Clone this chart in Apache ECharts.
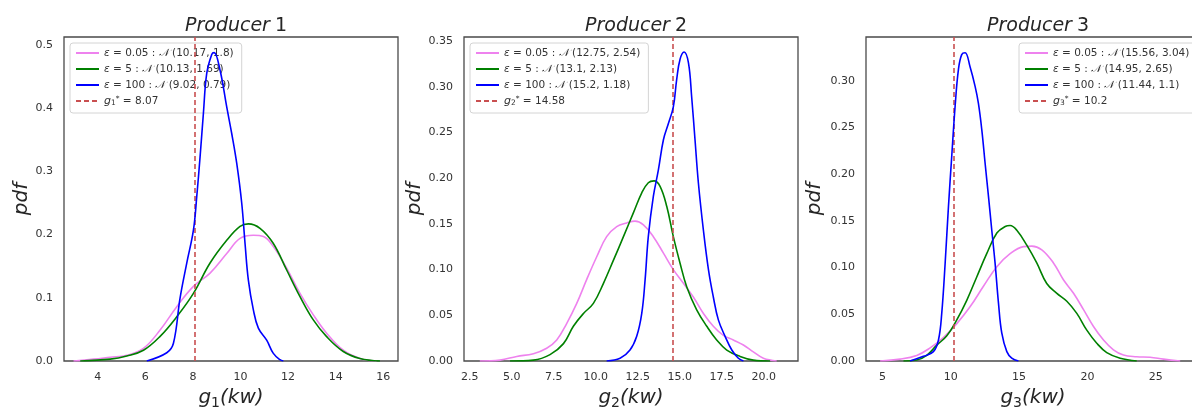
<!DOCTYPE html>
<html>
<head>
<meta charset="utf-8">
<script src="https://cdn.jsdelivr.net/npm/echarts@6/dist/echarts.min.js"></script>
<style>
html, body { margin: 0; padding: 0; background: #fff; }
#main { width: 1192px; height: 407px; }
</style>
</head>
<body>
<div id="main"></div>
<script>
// kde curves, [g, pdf]
const p1Low = [[2.98,0],[3.82,0.003],[4.52,0.006],[5.22,0.009],[5.92,0.02],[6.62,0.049],[7.32,0.086],[8.02,0.118],[8.72,0.139],[9.42,0.17],[9.98,0.194],[10.54,0.199],[10.96,0.197],[11.38,0.181],[11.94,0.147],[12.5,0.107],[13.06,0.073],[13.62,0.044],[14.32,0.017],[15.02,0.004],[15.72,0]];
const p1Mid = [[3.26,0],[4.52,0.003],[5.22,0.008],[5.92,0.017],[6.62,0.039],[7.32,0.07],[8.02,0.107],[8.72,0.155],[9.42,0.191],[9.98,0.213],[10.33,0.217],[10.82,0.21],[11.38,0.186],[11.94,0.144],[12.5,0.102],[13.06,0.065],[13.62,0.0385],[14.32,0.015],[15.02,0.004],[15.86,0]];
const p1High = [[6.06,0],[6.9,0.013],[7.18,0.028],[7.46,0.1],[7.74,0.155],[8.02,0.207],[8.16,0.26],[8.3,0.323],[8.44,0.392],[8.58,0.455],[8.79,0.485],[8.89,0.488],[9.14,0.46],[9.42,0.402],[9.63,0.36],[9.84,0.313],[10.05,0.25],[10.19,0.186],[10.33,0.128],[10.54,0.081],[10.75,0.052],[11.1,0.033],[11.38,0.012],[11.66,0.002],[11.8,0]];

const p2Low = [[3.1,0],[4.3,0.001],[5.3,0.005],[6.29,0.008],[7.08,0.014],[7.68,0.023],[8.27,0.041],[8.87,0.063],[9.46,0.089],[10.06,0.114],[10.65,0.136],[11.25,0.147],[11.85,0.151],[12.34,0.153],[12.84,0.149],[13.43,0.136],[14.03,0.118],[14.62,0.1],[15.22,0.085],[15.81,0.07],[16.41,0.052],[17.0,0.038],[17.6,0.028],[18.19,0.023],[18.79,0.0175],[19.38,0.01],[19.98,0.003],[20.77,0]];
const p2Mid = [[4.9,0],[6.29,0.001],[7.28,0.007],[8.08,0.019],[8.67,0.038],[9.27,0.052],[9.86,0.063],[10.46,0.085],[11.05,0.11],[11.65,0.136],[12.24,0.162],[12.74,0.184],[13.13,0.195],[13.47,0.197],[13.83,0.191],[14.23,0.169],[14.62,0.136],[15.02,0.107],[15.42,0.081],[16.01,0.056],[16.61,0.038],[17.2,0.023],[17.8,0.012],[18.59,0.005],[19.38,0.001],[20.38,0]];
const p2High = [[10.65,0],[11.45,0.003],[12.04,0.012],[12.44,0.027],[12.74,0.052],[12.94,0.089],[13.13,0.136],[13.43,0.18],[13.73,0.209],[14.03,0.242],[14.33,0.26],[14.62,0.278],[14.82,0.308],[15.02,0.33],[15.26,0.338],[15.52,0.326],[15.71,0.289],[15.91,0.242],[16.11,0.195],[16.41,0.143],[16.71,0.1],[17.0,0.07],[17.3,0.045],[17.7,0.027],[18.1,0.012],[18.49,0.003],[18.79,0]];

const p3Low = [[4.83,0],[6.29,0.002],[7.51,0.006],[8.49,0.014],[9.46,0.025],[10.44,0.04],[11.41,0.058],[12.39,0.08],[13.37,0.101],[14.34,0.115],[15.32,0.1225],[15.93,0.123],[16.66,0.119],[17.51,0.105],[18.24,0.087],[18.98,0.0725],[19.71,0.055],[20.44,0.037],[21.17,0.0225],[21.9,0.012],[22.63,0.0064],[23.6,0.0046],[24.58,0.004],[25.56,0.002],[26.78,0]];
const p3Mid = [[6.54,0],[7.51,0.001],[8.24,0.006],[8.98,0.017],[9.71,0.027],[10.44,0.044],[11.17,0.065],[11.9,0.09],[12.63,0.115],[13.37,0.137],[13.98,0.144],[14.34,0.145],[14.83,0.14],[15.56,0.124],[16.29,0.105],[17.02,0.083],[17.76,0.0725],[18.49,0.064],[19.22,0.051],[19.95,0.033],[20.68,0.019],[21.41,0.009],[22.39,0.003],[23.6,0]];
const p3High = [[7.02,0],[8.0,0.005],[8.73,0.01],[9.1,0.0225],[9.34,0.051],[9.59,0.105],[9.83,0.165],[10.07,0.219],[10.32,0.273],[10.56,0.312],[10.8,0.328],[11.05,0.33],[11.41,0.315],[11.78,0.294],[12.02,0.276],[12.27,0.2475],[12.51,0.212],[12.76,0.176],[13.0,0.14],[13.24,0.105],[13.49,0.062],[13.73,0.03],[14.1,0.01],[14.46,0.003],[14.95,0]];

// legend labels
const epsLabels = ["0.05", "5", "100"];
const p1Params = ["10.17, 1.8", "10.13, 1.69", "9.02, 0.79"];
const p2Params = ["12.75, 2.54", "13.1, 2.13", "15.2, 1.18"];
const p3Params = ["15.56, 3.04", "14.95, 2.65", "11.44, 1.1"];
const gStar = [8.07, 14.58, 10.2];

// tick labels
const p1XTicks = [4, 6, 8, 10, 12, 14, 16];
const p2XTicks = [2.5, 5, 7.5, 10, 12.5, 15, 17.5, 20];
const p3XTicks = [5, 10, 15, 20, 25];
const p1YTicks = [0, 0.1, 0.2, 0.3, 0.4, 0.5];
const p2YTicks = [0, 0.05, 0.1, 0.15, 0.2, 0.25, 0.3, 0.35];
const p3YTicks = [0, 0.05, 0.1, 0.15, 0.2, 0.25, 0.3];

const FONT = "DejaVu Sans";
const TEXT = "#333333";
const lineColors = ["#ee82ee", "#008000", "#0000ff"];
const starColor = "#c94f50";

const panels = [
	{ curves: [p1Low, p1Mid, p1High], params: p1Params, xTicks: p1XTicks, yTicks: p1YTicks, xDigits: 0, yDigits: 1,
		left: 64, xMin: 2.58, xMax: 16.62, yMax: 0.5127, nameGap: 29, legendLeft: 70 },
	{ curves: [p2Low, p2Mid, p2High], params: p2Params, xTicks: p2XTicks, yTicks: p2YTicks, xDigits: 1, yDigits: 2,
		left: 464, xMin: 2.16, xMax: 22.04, yMax: 0.3544, nameGap: 39, legendLeft: 470 },
	{ curves: [p3Low, p3Mid, p3High], params: p3Params, xTicks: p3XTicks, yTicks: p3YTicks, xDigits: 0, yDigits: 2,
		left: 866, xMin: 3.8, xMax: 28.23, yMax: 0.3469, nameGap: 41, legendLeft: 1019 }
];

const legendRich = {
	e: { fontFamily: FONT, fontStyle: "italic", fontSize: 10.5, color: TEXT },
	n: { fontFamily: FONT, fontStyle: "italic", fontSize: 10.5, color: TEXT },
	i: { fontFamily: FONT, fontStyle: "italic", fontSize: 11, color: TEXT },
	sub: { fontFamily: FONT, fontSize: 7.5, color: TEXT, verticalAlign: "bottom", lineHeight: 10 },
	sup: { fontFamily: FONT, fontSize: 7.5, color: TEXT, verticalAlign: "top", lineHeight: 8 }
};

const legendText = {};
const option = {
	animation: false,
	backgroundColor: "#ffffff",
	title: [],
	grid: [],
	xAxis: [],
	yAxis: [],
	legend: [],
	series: []
};

panels.forEach((p, k) => {
	const names = [];
	p.curves.forEach((data, j) => {
		const name = "eps" + epsLabels[j] + "_p" + (k + 1);
		legendText[name] = "{e|ε} = " + epsLabels[j] + " : {n|𝒩} (" + p.params[j] + ")";
		names.push(name);
		option.series.push({
			name: name,
			type: "line",
			xAxisIndex: k,
			yAxisIndex: k,
			data: data,
			symbol: "none",
			smooth: 0.4,
			lineStyle: { color: lineColors[j], width: 1.6 },
			itemStyle: { color: lineColors[j] },
			z: 3 + j
		});
	});
	const starName = "gstar_p" + (k + 1);
	legendText[starName] = "{i|g}{sub|" + (k + 1) + "}{sup|*} = " + gStar[k];
	names.push(starName);
	option.series.push({
		name: starName,
		type: "line",
		xAxisIndex: k,
		yAxisIndex: k,
		data: [],
		symbol: "none",
		lineStyle: { color: starColor, width: 1.6, type: [5, 3] },
		itemStyle: { color: starColor },
		markLine: {
			silent: true,
			symbol: "none",
			label: { show: false },
			lineStyle: { color: starColor, width: 1.6, type: [5, 3] },
			data: [{ xAxis: gStar[k] }]
		},
		z: 2
	});

	option.grid.push({
		left: p.left, top: 37, width: 334, height: 324,
		containLabel: false,
		outerBoundsMode: "none",
		show: true, borderColor: "#4a4a4a", borderWidth: 1.3, backgroundColor: "transparent"
	});
	option.title.push({
		text: "{i|Producer} {n|" + (k + 1) + "}",
		left: p.left + 167,
		top: 12,
		textAlign: "center",
		textStyle: {
			fontWeight: "normal",
			rich: {
				i: { fontFamily: FONT, fontStyle: "italic", fontWeight: "normal", fontSize: 19, color: "#262626" },
				n: { fontFamily: FONT, fontWeight: "normal", fontSize: 19, color: "#262626" }
			}
		}
	});
	option.xAxis.push({
		type: "value",
		gridIndex: k,
		min: p.xMin,
		max: p.xMax,
		splitLine: { show: false },
		axisLine: { show: false },
		axisTick: { show: false },
		axisLabel: {
			customValues: p.xTicks,
			fontFamily: FONT, fontSize: 11, color: TEXT, margin: 11,
			formatter: v => v.toFixed(p.xDigits)
		},
		name: "{i|g}{s|" + (k + 1) + "}{i|(kw)}",
		nameLocation: "middle",
		nameGap: 23,
		nameTextStyle: {
			rich: {
				i: { fontFamily: FONT, fontStyle: "italic", fontSize: 20, color: "#262626", lineHeight: 24 },
				s: { fontFamily: FONT, fontSize: 14, color: "#262626", verticalAlign: "bottom", lineHeight: 14 }
			}
		}
	});
	option.yAxis.push({
		type: "value",
		gridIndex: k,
		min: 0,
		max: p.yMax,
		splitLine: { show: false },
		axisLine: { show: false },
		axisTick: { show: false },
		axisLabel: {
			customValues: p.yTicks,
			fontFamily: FONT, fontSize: 11, color: TEXT, margin: 11,
			formatter: v => v.toFixed(p.yDigits)
		},
		name: "pdf",
		nameLocation: "middle",
		nameRotate: 90,
		nameGap: p.nameGap,
		nameTextStyle: { fontFamily: FONT, fontStyle: "italic", fontSize: 20, color: "#262626" }
	});
	option.legend.push({
		data: names,
		orient: "vertical",
		left: p.legendLeft,
		top: 43,
		padding: [4, 8, 6, 5],
		itemWidth: 23,
		itemHeight: 10,
		itemGap: 4,
		itemStyle: { opacity: 0 },
		backgroundColor: "rgba(255,255,255,0.8)",
		borderColor: "#d4d4d4",
		borderWidth: 1,
		borderRadius: 3,
		selectedMode: false,
		formatter: name => legendText[name],
		textStyle: { fontFamily: FONT, fontSize: 10.5, color: TEXT, lineHeight: 12, rich: legendRich }
	});
});

const chart = echarts.init(document.getElementById("main"));
chart.setOption(option);
</script>
</body>
</html>
